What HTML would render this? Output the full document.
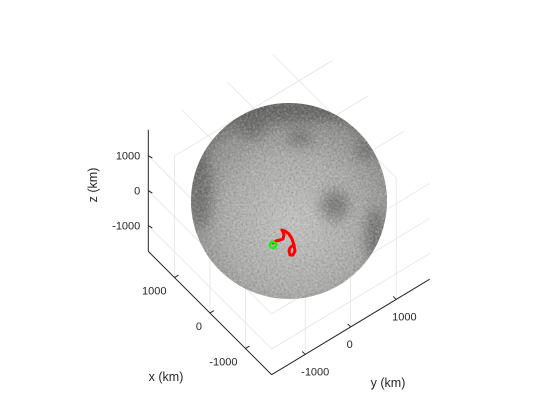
<!DOCTYPE html>
<html><head><meta charset="utf-8"><style>
html,body{margin:0;padding:0;background:#fff;}
svg{display:block;font-family:"Liberation Sans",Arial,sans-serif;}
</style></head><body>
<svg id="chart" width="560" height="420" viewBox="0 0 560 420">
<defs>
<radialGradient id="moonGrad" cx="0.52" cy="0.62" r="0.62">
<stop offset="0" stop-color="#c2c2c0"/>
<stop offset="0.55" stop-color="#acacaa"/>
<stop offset="0.85" stop-color="#929290"/>
<stop offset="1" stop-color="#747472"/>
</radialGradient>
<filter id="blur4"><feGaussianBlur stdDeviation="6"/></filter>
<filter id="noise" x="0" y="0" width="1" height="1">
<feTurbulence type="fractalNoise" baseFrequency="0.45" numOctaves="3" seed="3"/>
<feColorMatrix type="matrix" values="0 0 0 0 1  0 0 0 0 1  0 0 0 0 1  0 0 0 1.4 -0.6"/>
</filter>
<filter id="noise2" x="0" y="0" width="1" height="1">
<feTurbulence type="fractalNoise" baseFrequency="0.5" numOctaves="2" seed="9"/>
<feColorMatrix type="matrix" values="0 0 0 0 0  0 0 0 0 0  0 0 0 0 0  0 0 0 1.4 -0.65"/>
</filter>
<clipPath id="moonClip"><circle cx="289" cy="201" r="98"/></clipPath>
</defs>
<g id="grid"></g>
<g id="moon">
<circle cx="289" cy="201" r="98" fill="url(#moonGrad)"/>
<g clip-path="url(#moonClip)">
<g filter="url(#blur4)" fill="#555" opacity="0.55">
<ellipse cx="280" cy="112" rx="60" ry="12"/>
<ellipse cx="252" cy="130" rx="16" ry="8"/>
<ellipse cx="300" cy="138" rx="14" ry="7"/>
<ellipse cx="200" cy="190" rx="12" ry="40"/>
<ellipse cx="335" cy="205" rx="14" ry="16"/>
<ellipse cx="365" cy="150" rx="8" ry="10"/>
<ellipse cx="375" cy="235" rx="10" ry="28"/>
<ellipse cx="335" cy="110" rx="22" ry="8"/>
</g>
<rect x="191" y="103" width="196" height="196" filter="url(#noise)" opacity="0.45"/>
<rect x="191" y="103" width="196" height="196" filter="url(#noise2)" opacity="0.3"/>
</g>
</g>
<g id="traj"></g>
<g id="axes"></g>
</svg>
<script>
const NS="http://www.w3.org/2000/svg";
const L=1737;
const xTicks=[-1000,0,1000];
const yTicks=[-1000,0,1000];
const zTicks=[-1000,0,1000];
const xTickLabels=["-1000","0","1000"];
const yTickLabels=["-1000","0","1000"];
const zTickLabels=["-1000","0","1000"];
// trajectory (projected screen-plane samples)
const trajU=[273,276,280,283,284,283,282,285,289,292,294,295,293,290,289,290,292];
const trajV=[243,241,240,239,235,232,230,231,234,239,245,251,255,255,251,248,246];
const startU=[273];
const startV=[245];
function P(x,y,z){return [289+(-x*35.5+y*45.5)/1000, 204.5+(-x*35.5-y*27.5-z*35)/1000];}
function line(g,a,b,stroke,w,name){const l=document.createElementNS(NS,'line');
l.setAttribute('x1',a[0]);l.setAttribute('y1',a[1]);l.setAttribute('x2',b[0]);l.setAttribute('y2',b[1]);
l.setAttribute('stroke',stroke);l.setAttribute('stroke-width',w);


g.appendChild(l);}
function text(g,s,x,y,anchor,name,size,rot){const t=document.createElementNS(NS,'text');
t.setAttribute('x',x);t.setAttribute('y',y);t.setAttribute('text-anchor',anchor);
t.setAttribute('font-size',size||'11');t.setAttribute('fill','#262626');t.textContent=s;
if(rot)t.setAttribute('transform',rot);


g.appendChild(t);}
const G=document.getElementById('grid'),gc='#dcdcdc';
xTicks.forEach(x=>line(G,P(x,-L,-L),P(x,-L,L),gc,0.6,'grid-x'));
zTicks.forEach(z=>line(G,P(-L,-L,z),P(L,-L,z),gc,0.6,'grid-z'));
yTicks.forEach(y=>line(G,P(-L,y,-L),P(-L,y,L),gc,0.6,'grid-y'));
zTicks.forEach(z=>line(G,P(-L,-L,z),P(-L,L,z),gc,0.6,'grid-z'));
xTicks.forEach(x=>line(G,P(x,-L,L),P(x,L,L),gc,0.6,'grid-x'));
yTicks.forEach(y=>line(G,P(-L,y,L),P(L,y,L),gc,0.6,'grid-y'));
const T=document.getElementById('traj');
const pl=document.createElementNS(NS,'polyline');
pl.setAttribute('points',trajU.map((u,i)=>u+','+trajV[i]).join(' '));
pl.setAttribute('fill','none');pl.setAttribute('stroke','#ff0000');pl.setAttribute('stroke-width','3');
pl.setAttribute('stroke-linejoin','round');pl.setAttribute('stroke-linecap','round');


T.appendChild(pl);
startU.forEach((u,i)=>{const c=document.createElementNS(NS,'circle');
c.setAttribute('cx',u);c.setAttribute('cy',startV[i]);c.setAttribute('r','3');
c.setAttribute('fill','none');c.setAttribute('stroke','#00ff00');c.setAttribute('stroke-width','2.5');


T.appendChild(c);});
const A=document.getElementById('axes'),ac='#262626';
line(A,P(L,-L,-L),P(-L,-L,-L),ac,1,'x-axis-line');
line(A,P(-L,-L,-L),P(-L,L,-L),ac,1,'y-axis-line');
line(A,P(L,-L,-L),P(L,-L,L),ac,1,'z-axis-line');
xTicks.forEach((x,i)=>{const p=P(x,-L,-L);line(A,p,[p[0]+4,p[1]-2.5],ac,1,'x-tick');
text(A,xTickLabels[i],p[0]-8,p[1]+17,'end','x-tick-label');});
yTicks.forEach((y,i)=>{const p=P(-L,y,-L);line(A,p,[p[0]-3,p[1]-3],ac,1,'y-tick');
text(A,yTickLabels[i],p[0]-4,p[1]+21,'start','y-tick-label');});
zTicks.forEach((z,i)=>{const p=P(L,-L,z);line(A,p,[p[0]+4,p[1]+2.5],ac,1,'z-tick');
text(A,zTickLabels[i],p[0]-8,p[1]+4,'end','z-tick-label');});
text(A,'x (km)',166,381,'middle','x-axis-title','12.5');
text(A,'y (km)',388,387,'middle','y-axis-title','12.5');
text(A,'z (km)',97,185,'middle','z-axis-title','12.5','rotate(-90 97 185)');
</script>
</body></html>
